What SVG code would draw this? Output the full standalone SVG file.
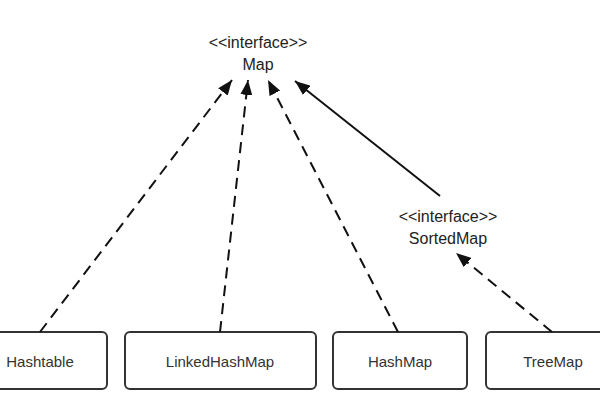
<svg xmlns="http://www.w3.org/2000/svg" width="600" height="400" viewBox="0 0 600 400">
<defs>
<style>
.box{fill:#fff;stroke:#333;stroke-width:2}
.lbl{font-family:"Liberation Sans",Arial,sans-serif;font-size:15px;fill:#333;text-anchor:middle}
.ifc{font-family:"Liberation Sans",Arial,sans-serif;font-size:16px;fill:#222;text-anchor:middle}
.edge{fill:none;stroke:#111;stroke-width:2}
.dash{stroke-dasharray:11 7}
</style>
<marker id="arr" markerUnits="userSpaceOnUse" markerWidth="16" markerHeight="12" refX="15" refY="6" orient="auto">
<path d="M0,0 L15,6 L0,12 z" fill="#111"/>
</marker>
</defs>
<rect width="600" height="400" fill="#fff"/>
<g id="Map">
<text class="ifc" x="258" y="48">&lt;&lt;interface&gt;&gt;</text>
<text class="ifc" x="258" y="70">Map</text>
</g>
<g id="SortedMap">
<text class="ifc" x="448" y="222">&lt;&lt;interface&gt;&gt;</text>
<text class="ifc" x="448" y="244">SortedMap</text>
</g>
<g id="Hashtable">
<rect class="box" x="-6" y="332" width="113" height="57" rx="5"/>
<text class="lbl" x="40" y="367">Hashtable</text>
</g>
<g id="LinkedHashMap">
<rect class="box" x="125" y="332" width="191" height="57" rx="5"/>
<text class="lbl" x="220" y="367">LinkedHashMap</text>
</g>
<g id="HashMap">
<rect class="box" x="333" y="332" width="134" height="57" rx="5"/>
<text class="lbl" x="400" y="367">HashMap</text>
</g>
<g id="TreeMap">
<rect class="box" x="486" y="332" width="124" height="57" rx="5"/>
<text class="lbl" x="553" y="367">TreeMap</text>
</g>
<g id="connectors">
<line class="edge dash" x1="40" y1="332" x2="232" y2="80" marker-end="url(#arr)"/>
<line class="edge dash" x1="220" y1="332" x2="248" y2="80" marker-end="url(#arr)"/>
<line class="edge dash" x1="398" y1="332" x2="268" y2="80" marker-end="url(#arr)"/>
<line class="edge" x1="440" y1="196" x2="295" y2="81" marker-end="url(#arr)"/>
<line class="edge dash" x1="552" y1="332" x2="456" y2="253" marker-end="url(#arr)"/>
</g>
</svg>
